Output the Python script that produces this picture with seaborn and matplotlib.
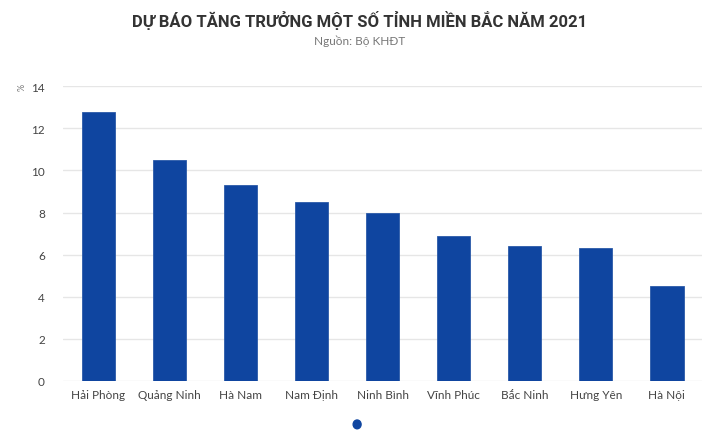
import matplotlib
matplotlib.use("Agg")
import matplotlib.pyplot as plt
import seaborn as sns
import pandas as pd

provinces = ["Hải Phòng", "Quảng Ninh", "Hà Nam", "Nam Định", "Ninh Bình",
             "Vĩnh Phúc", "Bắc Ninh", "Hưng Yên", "Hà Nội"]
growth = [12.8, 10.5, 9.3, 8.5, 8.0, 6.9, 6.4, 6.3, 4.5]
yticks = [0, 2, 4, 6, 8, 10, 12, 14]

title = "DỰ BÁO TĂNG TRƯỞNG MỘT SỐ TỈNH MIỀN BẮC NĂM 2021"
subtitle = "Nguồn: Bộ KHĐT"

df = pd.DataFrame({"tinh": provinces, "tang_truong": growth})

sns.set_theme(style="white")
plt.rcParams["font.family"] = ["Lato", "DejaVu Sans"]

bar_color = "#0f45a0"

fig = plt.figure(figsize=(7.2, 4.39), dpi=100)
ax = fig.add_axes([0.0875, 0.1305, 0.888, 0.6705])

sns.barplot(data=df, x="tinh", y="tang_truong", color=bar_color,
            width=0.47, saturation=1, ax=ax, zorder=3,
            edgecolor="#2b5aa8", linewidth=0.6)

ax.set_xlim(-0.5, len(provinces) - 0.5)
ax.set_ylim(0, 14)
ax.set_yticks(yticks)
ax.set_yticklabels([str(t) for t in yticks], fontsize=8.5, color="#444444")
ax.tick_params(axis="x", labelsize=8.5, labelcolor="#444444", length=0, pad=6)
ax.tick_params(axis="y", length=0, pad=13)
ax.yaxis.grid(True, color="#e6e6e6", linewidth=1, zorder=0)
ax.set_xlabel("")
ax.set_ylabel("")
for s in ax.spines.values():
    s.set_visible(False)

fig.text(0.031, 0.80, "%", rotation=90, fontsize=6.5, color="#777777",
         ha="center", va="center")

fig.text(0.5, 0.953, title, ha="center", va="center", fontsize=12,
         fontweight="bold", color="#333333", family=["Roboto", "DejaVu Sans"])
fig.text(0.5, 0.905, subtitle, ha="center", va="center", fontsize=8.5,
         color="#777777")

# legend marker
fig.patches.append(matplotlib.patches.Ellipse((0.496, 0.031), 0.011, 0.02,
                                              transform=fig.transFigure,
                                              color="#0f45a0"))

fig.savefig("out.png", dpi=100)
